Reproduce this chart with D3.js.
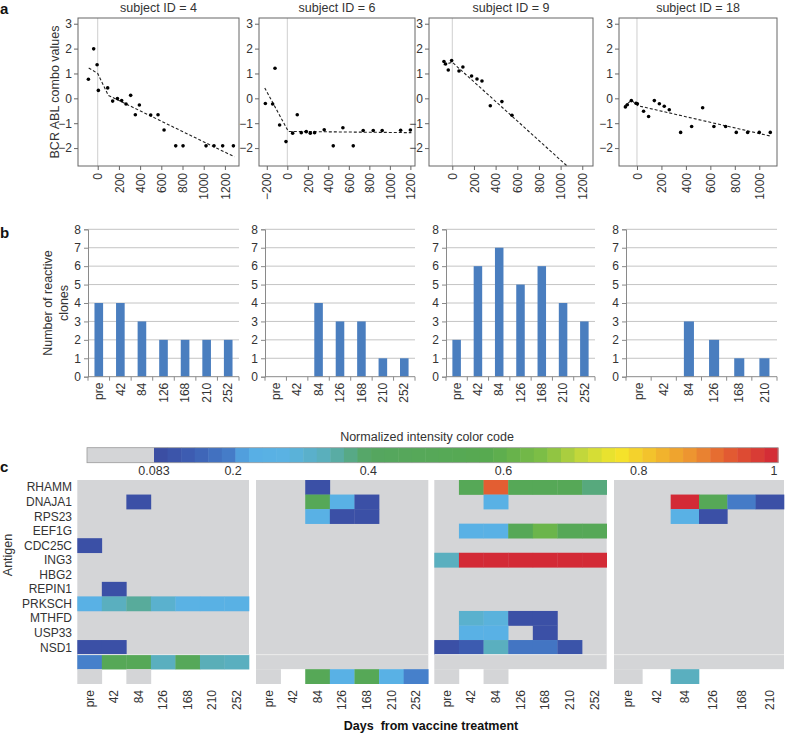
<!DOCTYPE html>
<html><head><meta charset="utf-8">
<script src="https://cdn.jsdelivr.net/npm/d3@7"></script>
<style>
body{margin:0;background:#fff}
svg{display:block}
text{font-family:"Liberation Sans",Arial,sans-serif;fill:#333}
</style>
</head><body>
<svg id="chart" width="786" height="733"></svg>
<script>
// ================= DATA =================
// Panel a: BCR-ABL combo values over days
const subjectIds = ["4", "6", "9", "18"];

const s4Days = [-88,-38,-6,6,94,141,186,226,267,311,355,393,500,569,626,736,805,1022,1097,1179,1280];
const s4Vals = [0.77,1.99,1.35,0.32,0.42,-0.11,-0.01,-0.09,-0.23,0.12,-0.66,-0.27,-0.67,-0.66,-1.27,-1.91,-1.91,-1.91,-1.91,-1.91,-1.91];
const s4FitDays = [-85, 0, 100, 1290];
const s4FitVals = [1.22, 1.0, 0.12, -2.35];

const s6Days = [-214,-143,-120,-75,-13,52,97,136,185,224,266,360,448,542,643,740,838,925,1105,1200];
const s6Vals = [-0.21,-0.23,1.21,-1.07,-1.74,-1.40,-0.66,-1.38,-1.34,-1.40,-1.38,-1.26,-1.91,-1.18,-1.91,-1.29,-1.29,-1.29,-1.28,-1.27];
const s6FitDays = [-220, 10, 1210];
const s6FitVals = [0.42, -1.33, -1.38];

const s9Days = [-77,-62,-37,-6,62,98,178,228,274,351,458,551];
const s9Vals = [1.48,1.38,1.14,1.52,1.10,1.26,0.90,0.78,0.70,-0.30,-0.13,-0.68];
const s9FitDays = [-80, 0, 1060];
const s9FitVals = [1.35, 1.45, -2.72];

const s18Days = [-95,-79,-46,-8,3,54,95,142,183,223,264,357,447,537,629,725,812,905,1000,1090];
const s18Vals = [-0.35,-0.26,-0.09,-0.20,-0.22,-0.52,-0.73,-0.09,-0.22,-0.32,-0.46,-1.37,-1.13,-0.38,-1.13,-1.13,-1.37,-1.37,-1.37,-1.37];
const s18FitDays = [-105, -45, 10, 1095];
const s18FitVals = [-0.32, -0.08, -0.30, -1.52];

const aYTicks = [-2, -1, 0, 1, 2, 3];

// Panel b: number of reactive clones
const timepoints = ["pre", "42", "84", "126", "168", "210", "252"];
const timepoints18 = ["pre", "42", "84", "126", "168", "210"];
const clones4 = [4, 4, 3, 2, 2, 2, 2];
const clones6 = [0, 0, 4, 3, 3, 1, 1];
const clones9 = [2, 6, 7, 5, 6, 4, 3];
const clones18 = [0, 0, 3, 2, 1, 1];
const bYTicks = [0, 1, 2, 3, 4, 5, 6, 7, 8];

// Panel c: normalized intensity heatmap
const antigens = ["RHAMM","DNAJA1","RPS23","EEF1G","CDC25C","ING3","HBG2","REPIN1","PRKSCH","MTHFD","USP33","NSD1"];
const n = null;
const heat4 = [
  [n,n,n,n,n,n,n],
  [n,n,0.1,n,n,n,n],
  [n,n,n,n,n,n,n],
  [n,n,n,n,n,n,n],
  [0.1,n,n,n,n,n,n],
  [n,n,n,n,n,n,n],
  [n,n,n,n,n,n,n],
  [n,0.1,n,n,n,n,n],
  [0.25,0.33,0.36,0.31,0.27,0.26,0.26],
  [n,n,n,n,n,n,n],
  [n,n,n,n,n,n,n],
  [0.1,0.1,n,n,n,n,n]
];
const summary4 = [0.2,0.5,0.5,0.33,0.48,0.34,0.33];
const avail4 = [0,n,0,n,n,n,n];

const heat6 = [
  [n,n,0.1,n,n,n,n],
  [n,n,0.5,0.25,0.1,n,n],
  [n,n,0.25,0.1,0.1,n,n],
  [n,n,n,n,n,n,n],
  [n,n,n,n,n,n,n],
  [n,n,n,n,n,n,n],
  [n,n,n,n,n,n,n],
  [n,n,n,n,n,n,n],
  [n,n,n,n,n,n,n],
  [n,n,n,n,n,n,n],
  [n,n,n,n,n,n,n],
  [n,n,n,n,n,n,n]
];
const summary6 = [n,n,n,n,n,n,n];
const avail6 = [0,n,0.5,0.25,0.5,0.25,0.2];

const heat9 = [
  [n,0.5,0.93,0.5,0.5,0.5,0.38],
  [n,n,0.25,n,n,n,n],
  [n,n,n,n,n,n,n],
  [n,0.25,0.25,0.5,0.62,0.5,0.5],
  [n,n,n,n,n,n,n],
  [0.33,1,1,1,1,1,1],
  [n,n,n,n,n,n,n],
  [n,n,n,n,n,n,n],
  [n,n,n,n,n,n,n],
  [n,0.31,0.29,0.1,0.1,n,n],
  [n,0.25,0.25,n,0.1,n,n],
  [0.1,0.13,0.33,0.18,0.18,0.11,n]
];
const summary9 = [n,n,n,n,n,n,n];
const avail9 = [0,n,0,n,n,n,n];

const heat18 = [
  [n,n,n,n,n,n],
  [n,n,1,0.5,0.19,0.1],
  [n,n,0.25,0.1,n,n],
  [n,n,n,n,n,n],
  [n,n,n,n,n,n],
  [n,n,n,n,n,n],
  [n,n,n,n,n,n],
  [n,n,n,n,n,n],
  [n,n,n,n,n,n],
  [n,n,n,n,n,n],
  [n,n,n,n,n,n],
  [n,n,n,n,n,n]
];
const summary18 = [n,n,n,n,n,n];
const avail18 = [0,n,0.33,n,n,n];

const colorStops = [0.083,0.14,0.2,0.22,0.28,0.34,0.40,0.58,0.66,0.72,0.77,0.82,0.88,0.93,1.0];
const colorCodes = ["#3a4aa0","#3d5fb3","#4680cb","#57aee6","#5ab3e3","#5aaeb8","#55a660","#57aa50","#7fbf45","#c8d93a","#f5e62b","#f3bf2c","#ec9230","#e35e32","#d32a36"];
const colorbarTicks = [0.083, 0.2, 0.4, 0.6, 0.8, 1];
const threshold = 0.083;

// ================= DRAW =================
const svg = d3.select("#chart");
const GREY = "#d4d5d7";
const color = d3.scaleLinear().domain(colorStops).range(colorCodes).clamp(true);
const cellColor = v => (v == null ? null : (v < threshold ? GREY : color(v)));

// panel letters
[["a", 0, 14], ["b", 0, 238], ["c", 0, 472]].forEach(([t, x, y]) => {
  svg.append("text").attr("x", x).attr("y", y).text(t)
    .style("font-size", "15px").style("font-weight", "bold").style("fill", "#111");
});

// ---------- Panel a ----------
const aSeries = [
  {days: s4Days, vals: s4Vals, fd: s4FitDays, fv: s4FitVals},
  {days: s6Days, vals: s6Vals, fd: s6FitDays, fv: s6FitVals},
  {days: s9Days, vals: s9Vals, fd: s9FitDays, fv: s9FitVals},
  {days: s18Days, vals: s18Vals, fd: s18FitDays, fv: s18FitVals}
];
const aLayout = [
  {x0: 78, x1: 239, dom: [-186, 1333], ticks: d3.range(0, 1201, 200)},
  {x0: 259, x1: 415, dom: [-276, 1245], ticks: d3.range(-200, 1201, 200)},
  {x0: 429, x1: 593, dom: [-215, 1299], ticks: d3.range(0, 1201, 200)},
  {x0: 619, x1: 777, dom: [-147, 1145], ticks: d3.range(0, 1001, 200)}
];
const aTop = 18, aBot = 166;
const yA = d3.scaleLinear().domain([-2.72, 3.23]).range([aBot, aTop]);

aSeries.forEach((s, i) => {
  const L = aLayout[i];
  const x = d3.scaleLinear().domain(L.dom).range([L.x0, L.x1]);
  const g = svg.append("g");
  const cid = "clipA" + i;
  svg.append("clipPath").attr("id", cid).append("rect")
    .attr("x", L.x0).attr("y", aTop).attr("width", L.x1 - L.x0).attr("height", aBot - aTop);

  g.append("line").attr("x1", x(0)).attr("x2", x(0)).attr("y1", aTop).attr("y2", aBot)
    .attr("stroke", "#cfcfcf").attr("stroke-width", 1);

  const line = d3.line().x((d, k) => x(s.fd[k])).y((d, k) => yA(s.fv[k]));
  g.append("path").attr("d", line(s.fd)).attr("clip-path", `url(#${cid})`)
    .attr("fill", "none").attr("stroke", "#222").attr("stroke-width", 1.1)
    .attr("stroke-dasharray", "3,2");

  g.selectAll("circle").data(s.days).join("circle")
    .attr("cx", d => x(d)).attr("cy", (d, k) => yA(s.vals[k])).attr("r", 1.8)
    .attr("fill", "#000");

  g.append("rect").attr("x", L.x0).attr("y", aTop).attr("width", L.x1 - L.x0).attr("height", aBot - aTop)
    .attr("fill", "none").attr("stroke", "#666").attr("stroke-width", 1);

  const ya = g.append("g").attr("transform", `translate(${L.x0},0)`)
    .call(d3.axisLeft(yA).tickValues(aYTicks).tickSize(4).tickPadding(2).tickFormat(d3.format("d")));
  ya.select(".domain").remove();
  ya.selectAll("line").attr("stroke", "#666");
  ya.selectAll("text").style("font-size", "12px").style("font-family", '"Liberation Sans",Arial,sans-serif').attr("fill", "#333");

  const xa = g.append("g").attr("transform", `translate(0,${aBot})`)
    .call(d3.axisBottom(x).tickValues(L.ticks).tickSize(4).tickFormat(d3.format("d")));
  xa.select(".domain").remove();
  xa.selectAll("line").attr("stroke", "#666");
  xa.selectAll("text").style("font-size", "12px").style("font-family", '"Liberation Sans",Arial,sans-serif')
    .attr("fill", "#333")
    .attr("text-anchor", "end").attr("transform", "rotate(-90)")
    .attr("x", -7).attr("y", 0).attr("dy", "0.35em");

  svg.append("text").attr("x", (L.x0 + L.x1) / 2).attr("y", 12).attr("text-anchor", "middle")
    .style("font-size", "12.5px").text("subject ID = " + subjectIds[i]);
});
svg.append("text").attr("transform", "translate(59,92) rotate(-90)").attr("text-anchor", "middle")
  .style("font-size", "12.5px").text("BCR ABL combo values");

// ---------- Panel b ----------
const bSeries = [
  {cats: timepoints, vals: clones4},
  {cats: timepoints, vals: clones6},
  {cats: timepoints, vals: clones9},
  {cats: timepoints18, vals: clones18}
];
const bLayout = [{x0: 88, x1: 239}, {x0: 265, x1: 415}, {x0: 446, x1: 595}, {x0: 626, x1: 777}];
const bTop = 229.3, bBot = 376.7;
const yB = d3.scaleLinear().domain([0, 8]).range([bBot, bTop]);

bSeries.forEach((s, i) => {
  const L = bLayout[i];
  const x = d3.scaleBand().domain(s.cats).range([L.x0, L.x1]).paddingInner(0.6).paddingOuter(0.3);
  const g = svg.append("g");
  g.selectAll("line.grid").data(bYTicks.filter(t => t > 0)).join("line")
    .attr("x1", L.x0).attr("x2", L.x1).attr("y1", d => yB(d)).attr("y2", d => yB(d))
    .attr("stroke", "#c4c4c4").attr("stroke-width", 1);
  g.selectAll("rect.bar").data(s.cats).join("rect")
    .attr("x", d => x(d)).attr("width", x.bandwidth())
    .attr("y", (d, k) => yB(s.vals[k])).attr("height", (d, k) => yB(0) - yB(s.vals[k]))
    .attr("fill", "#4a7ebf");
  const ya = g.append("g").attr("transform", `translate(${L.x0},0)`)
    .call(d3.axisLeft(yB).tickValues(bYTicks).tickSize(4).tickPadding(3));
  ya.select(".domain").attr("stroke", "#8a8a8a");
  ya.selectAll("line").attr("stroke", "#8a8a8a");
  ya.selectAll("text").style("font-size", "12px").style("font-family", '"Liberation Sans",Arial,sans-serif').attr("fill", "#333");
  g.append("line").attr("x1", L.x0).attr("x2", L.x1).attr("y1", bBot).attr("y2", bBot)
    .attr("stroke", "#8a8a8a");
  const step = x.step();
  g.selectAll("line.xt").data(d3.range(s.cats.length + 1)).join("line")
    .attr("x1", k => L.x0 + k * step).attr("x2", k => L.x0 + k * step)
    .attr("y1", bBot).attr("y2", bBot + 4).attr("stroke", "#8a8a8a");
  g.selectAll("text.xl").data(s.cats).join("text")
    .attr("transform", d => `translate(${x(d) + x.bandwidth() / 2},${bBot + 6}) rotate(-90)`)
    .attr("text-anchor", "end").attr("dy", "0.35em")
    .style("font-size", "12px").text(d => d);
});
const bl = svg.append("text").attr("transform", "translate(52,303) rotate(-90)").attr("text-anchor", "middle")
  .style("font-size", "12.5px");
bl.append("tspan").attr("x", 0).attr("dy", 0).text("Number of reactive");
bl.append("tspan").attr("x", 0).attr("dy", "1.25em").text("clones");

// ---------- Panel c: colorbar ----------
const cbX0 = 87, cbGreyEnd = 154, cbX1 = 778, cbY = 447.7, cbH = 15;
const cbScale = d3.scaleLinear().domain([threshold, 1]).range([cbGreyEnd, 774]);
svg.append("rect").attr("x", cbX0).attr("y", cbY).attr("width", cbGreyEnd - cbX0).attr("height", cbH).attr("fill", GREY);
const nSteps = 46;
const stepW = (cbX1 - cbGreyEnd) / nSteps;
svg.append("g").selectAll("rect").data(d3.range(nSteps)).join("rect")
  .attr("x", k => cbGreyEnd + k * stepW).attr("y", cbY).attr("width", stepW + 0.5).attr("height", cbH)
  .attr("fill", k => color(cbScale.invert(cbGreyEnd + (k + 0.5) * stepW)));
svg.append("rect").attr("x", cbX0).attr("y", cbY).attr("width", cbX1 - cbX0).attr("height", cbH)
  .attr("fill", "none").attr("stroke", "#9a9a9a").attr("stroke-width", 0.8);
svg.append("g").selectAll("text").data(colorbarTicks).join("text")
  .attr("x", d => cbScale(d)).attr("y", 475).attr("text-anchor", "middle")
  .style("font-size", "12.5px").text(d => String(d));
svg.append("text").attr("x", 427).attr("y", 441).attr("text-anchor", "middle")
  .style("font-size", "12.5px").text("Normalized intensity color code");

// ---------- Panel c: heatmap ----------
const hSeries = [
  {cats: timepoints, heat: heat4, summary: summary4, avail: avail4},
  {cats: timepoints, heat: heat6, summary: summary6, avail: avail6},
  {cats: timepoints, heat: heat9, summary: summary9, avail: avail9},
  {cats: timepoints18, heat: heat18, summary: summary18, avail: avail18}
];
const hLayout = [{x0: 77.3, x1: 249}, {x0: 256, x1: 428.3}, {x0: 434.3, x1: 606.7}, {x0: 614, x1: 784}];
const rowKeys = antigens.concat(["__summary", "__avail"]);
const yH = d3.scaleBand().domain(rowKeys).range([480, 683.7]);

hSeries.forEach((s, i) => {
  const L = hLayout[i];
  const x = d3.scaleBand().domain(s.cats).range([L.x0, L.x1]);
  const g = svg.append("g");
  g.append("rect").attr("x", L.x0).attr("y", yH(rowKeys[0])).attr("width", L.x1 - L.x0)
    .attr("height", yH("__avail") - yH(rowKeys[0])).attr("fill", GREY);
  const cells = [];
  s.heat.forEach((row, r) => row.forEach((v, c) => { if (v != null) cells.push({r: antigens[r], c: s.cats[c], v}); }));
  s.summary.forEach((v, c) => { if (v != null) cells.push({r: "__summary", c: s.cats[c], v}); });
  s.avail.forEach((v, c) => { if (v != null) cells.push({r: "__avail", c: s.cats[c], v}); });
  g.selectAll("rect.cell").data(cells).join("rect")
    .attr("x", d => x(d.c)).attr("y", d => yH(d.r))
    .attr("width", x.bandwidth() + 0.3).attr("height", yH.bandwidth() + 0.3)
    .attr("fill", d => cellColor(d.v));
  g.append("line").attr("x1", L.x0).attr("x2", L.x1)
    .attr("y1", yH("__summary")).attr("y2", yH("__summary"))
    .attr("stroke", "#ececec").attr("stroke-width", 1);
  g.selectAll("text.xl").data(s.cats).join("text")
    .attr("transform", d => `translate(${x(d) + x.bandwidth() / 2},690) rotate(-90)`)
    .attr("text-anchor", "end").attr("dy", "0.35em")
    .style("font-size", "12px").text(d => d);
});
svg.append("g").selectAll("text").data(antigens).join("text")
  .attr("x", 72).attr("y", d => yH(d) + yH.bandwidth() / 2).attr("dy", "0.35em")
  .attr("text-anchor", "end").style("font-size", "12px").text(d => d);
svg.append("text").attr("transform", "translate(12,555) rotate(-90)").attr("text-anchor", "middle")
  .style("font-size", "12.5px").text("Antigen");
svg.append("text").attr("x", 431).attr("y", 730).attr("text-anchor", "middle")
  .style("font-size", "12.5px").style("font-weight", "bold").style("white-space", "pre")
  .style("fill", "#111").text("Days  from vaccine treatment");
</script>
</body></html>
